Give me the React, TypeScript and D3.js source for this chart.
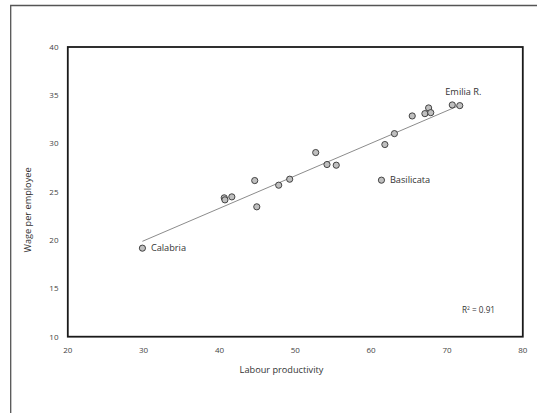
import React from "react";
import * as d3 from "d3";

const productivity = [29.84, 40.63, 40.72, 41.63, 44.65, 44.92, 47.81, 49.26, 52.69, 54.18, 55.4, 61.36, 61.81, 63.07, 65.42, 67.09, 67.58, 67.86, 70.7, 71.69];
const wage = [19.17, 24.38, 24.17, 24.48, 26.17, 23.45, 25.69, 26.31, 29.07, 27.83, 27.76, 26.21, 29.9, 31.03, 32.86, 33.1, 33.69, 33.2, 34.0, 33.93];
const xTicks = [20, 30, 40, 50, 60, 70, 80];
const yTicks = [10, 15, 20, 25, 30, 35, 40];
const labelNames = ["Calabria", "Basilicata", "Emilia R."];
const labelIdx = [0, 11, 18];

const W = 537, H = 413;
const L = 67.8, R = 522.8, T = 47, B = 336.7;
const font = "'Open Sans', 'Noto Sans', sans-serif";

export default function App() {
  const x = d3.scaleLinear().domain([20, 80]).range([L, R]);
  const y = d3.scaleLinear().domain([10, 40]).range([B, T]);
  const n = productivity.length;
  const mx = d3.mean(productivity)!, my = d3.mean(wage)!;
  let sxy = 0, sxx = 0;
  for (let i = 0; i < n; i++) { sxy += (productivity[i] - mx) * (wage[i] - my); sxx += (productivity[i] - mx) ** 2; }
  const slope = sxy / sxx, icpt = my - slope * mx;
  const x0 = d3.min(productivity)!, x1 = d3.max(productivity)!;
  const line = d3.line<number>().x(d => x(d)).y(d => y(icpt + slope * d));
  return (
    <svg width={W} height={H} style={{ position: "absolute", left: 0, top: 0 }}>
      <rect x={0} y={0} width={W} height={H} fill="#fff" />
      <path d={`M10.7,${H}V5.5H${W}`} fill="none" stroke="#555" strokeWidth={1.3} />
      <rect x={L} y={T} width={R - L} height={B - T} fill="none" stroke="#1a1a1a" strokeWidth={1.8} />
      {yTicks.map(t => (
        <text key={"y" + t} x={58.5} y={y(t)} dy="0.35em" textAnchor="end" fontFamily={font} fontSize={8} fill="#444">{t}</text>
      ))}
      {xTicks.map(t => (
        <text key={"x" + t} x={x(t)} y={350} dy="0.35em" textAnchor="middle" fontFamily={font} fontSize={8} fill="#444">{t}</text>
      ))}
      <path d={line([x0, x1]) || ""} stroke="#8c8c8c" strokeWidth={1} fill="none" />
      {productivity.map((p, i) => (
        <circle key={i} cx={x(p)} cy={y(wage[i])} r={3.1} fill="#bfbfbf" stroke="#333" strokeWidth={0.9} />
      ))}
      <text x={x(productivity[labelIdx[0]]) + 8.5} y={y(wage[labelIdx[0]])} dy="0.35em" fontFamily={font} fontSize={9.2} fill="#333">{labelNames[0]}</text>
      <text x={x(productivity[labelIdx[1]]) + 8.5} y={y(wage[labelIdx[1]])} dy="0.35em" fontFamily={font} fontSize={9.2} fill="#333">{labelNames[1]}</text>
      <text x={x(productivity[labelIdx[2]]) - 7} y={92} dy="0.35em" fontFamily={font} fontSize={9.2} fill="#333">{labelNames[2]}</text>
      <text x={462} y={310} dy="0.35em" fontFamily={font} fontSize={8.2} fill="#333">R<tspan dy="-3.2" fontSize={5}>2</tspan><tspan dy="3.2"> = 0.91</tspan></text>
      <text x={281.5} y={370} dy="0.35em" textAnchor="middle" fontFamily={font} fontSize={9.2} fill="#333">Labour productivity</text>
      <text transform={`translate(27.5,210) rotate(-90)`} dy="0.35em" textAnchor="middle" fontFamily={font} fontSize={9.2} fill="#333">Wage per employee</text>
    </svg>
  );
}
